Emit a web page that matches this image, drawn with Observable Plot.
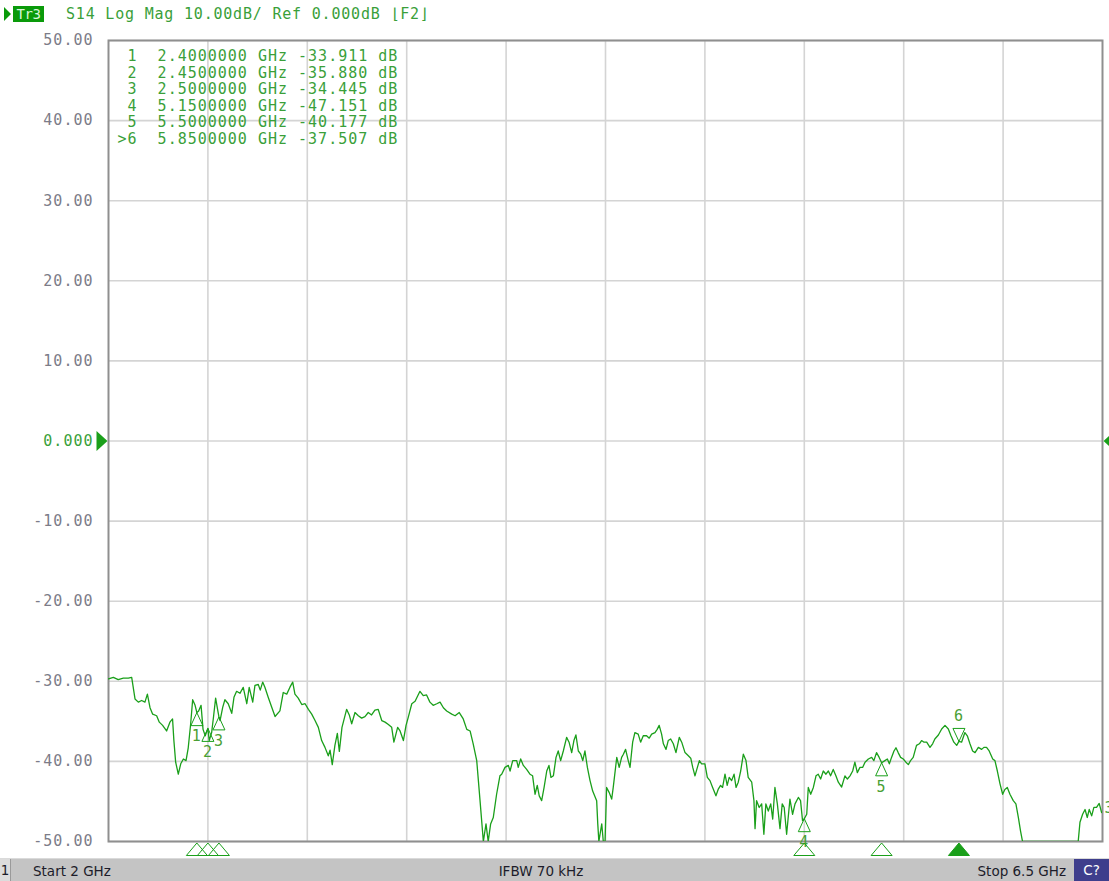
<!DOCTYPE html>
<html><head><meta charset="utf-8">
<script src="https://cdn.jsdelivr.net/npm/d3@7"></script>
<script src="https://cdn.jsdelivr.net/npm/@observablehq/plot@0.6"></script>
<style>
body{margin:0;background:#fff;width:1109px;height:881px;overflow:hidden;position:relative;font-family:"DejaVu Sans Mono",monospace;}
#header{position:relative;height:30px;}
#header .tri{position:absolute;left:4px;top:7px;width:0;height:0;border-top:7px solid transparent;border-bottom:7px solid transparent;border-left:7px solid #0a9a0a;}
#header .trbox{position:absolute;left:13px;top:6px;width:31px;height:16px;background:#0a9a0a;color:#d8f5d8;font-size:14px;line-height:16px;text-align:center;letter-spacing:-0.5px;}
#header .htext{position:absolute;left:66px;top:4px;font-size:15px;letter-spacing:0.8px;color:#3a9f3a;white-space:pre;line-height:20px;}
#chart{height:828px;}
#status{position:relative;height:23px;background:#c4c4c4;border-top:1px solid #dadada;box-sizing:border-box;font-family:"DejaVu Sans",sans-serif;font-size:13.5px;color:#1c1c2a;}
#status span{position:absolute;top:3px;line-height:18px;white-space:pre;}
#status .num{left:0;top:0;width:10px;height:22px;background:#dcdcdc;border-right:1px solid #9a9a9a;text-align:center;line-height:22px;}
#status .cbox{right:0;top:0;width:35px;height:22px;background:#3e3e8c;color:#fff;text-align:center;line-height:22px;}
</style></head><body>
<div id="header"><div class="tri"></div><div class="trbox" id="trname"></div><div class="htext" id="htext"></div></div>
<div id="chart"></div>
<div id="status">
 <span class="num" id="chnum"></span>
 <span id="start" style="left:33px"></span>
 <span id="ifbw" style="left:0;width:1082px;text-align:center"></span>
 <span id="stop" style="right:43px"></span>
 <span class="cbox" id="cbox"></span>
</div>
<script>
// ---- texts ----
const traceName = "Tr3";
const headerText = "S14 Log Mag 10.00dB/ Ref 0.000dB \u230AF2\u230B";
const statusTexts = {num: "1", start: "Start 2 GHz", ifbw: "IFBW 70 kHz", stop: "Stop 6.5 GHz", cbox: "C?"};

// ---- axes ----
const yTicks = [50, 40, 30, 20, 10, 0, -10, -20, -30, -40, -50];
const xGrid = [2.45, 2.9, 3.35, 3.8, 4.25, 4.7, 5.15, 5.6, 6.05];

// ---- markers ----
const markerNums = [1, 2, 3, 4, 5, 6];
const markerGHz = [2.40, 2.45, 2.50, 5.15, 5.50, 5.85];
const markerDB = [-33.911, -35.880, -34.445, -47.151, -40.177, -37.507];
const activeMarker = 6;

// ---- trace (GHz, dB) ----
const trace = [
[2.000,-29.7],[2.022,-29.5],[2.044,-29.8],[2.067,-29.6],[2.090,-29.6],[2.105,-29.5],[2.120,-32.2],[2.135,-32.6],[2.150,-32.4],[2.165,-32.6],
[2.176,-31.6],[2.188,-33.3],[2.200,-34.1],[2.218,-34.3],[2.230,-35.1],[2.245,-35.5],[2.263,-36.2],[2.278,-35.1],[2.290,-34.7],[2.296,-37.4],
[2.304,-40.1],[2.316,-41.6],[2.327,-40.3],[2.339,-39.7],[2.351,-39.9],[2.361,-38.3],[2.372,-35.3],[2.381,-32.3],[2.392,-33.0],[2.400,-33.911],
[2.408,-33.7],[2.419,-33.0],[2.428,-36.0],[2.438,-36.8],[2.450,-35.88],[2.456,-37.4],[2.467,-36.4],[2.476,-34.3],[2.485,-32.1],[2.495,-33.7],
[2.500,-34.445],[2.505,-34.9],[2.517,-33.25],[2.527,-32.3],[2.542,-32.8],[2.558,-34.0],[2.568,-32.0],[2.580,-31.25],[2.595,-31.5],[2.610,-30.75],
[2.626,-32.8],[2.637,-30.75],[2.653,-32.6],[2.663,-30.5],[2.678,-30.4],[2.687,-31.1],[2.698,-30.1],[2.708,-30.75],[2.723,-32.0],[2.739,-33.25],
[2.754,-34.4],[2.776,-33.7],[2.791,-31.4],[2.807,-31.6],[2.822,-30.7],[2.834,-30.1],[2.844,-31.6],[2.859,-32.1],[2.875,-32.9],[2.890,-32.8],
[2.905,-33.5],[2.920,-34.1],[2.935,-34.9],[2.950,-35.75],[2.965,-37.4],[2.980,-38.25],[2.995,-39.3],[3.003,-38.6],[3.013,-40.4],[3.025,-38.0],
[3.036,-36.5],[3.045,-38.75],[3.057,-35.75],[3.078,-33.5],[3.090,-34.2],[3.101,-35.3],[3.116,-33.9],[3.131,-34.3],[3.146,-34.6],[3.161,-34.4],
[3.176,-33.9],[3.191,-34.2],[3.206,-33.6],[3.221,-33.5],[3.237,-34.9],[3.252,-35.1],[3.267,-35.4],[3.282,-35.75],[3.292,-37.6],[3.309,-35.75],
[3.320,-36.2],[3.335,-37.4],[3.347,-35.5],[3.357,-34.5],[3.373,-32.8],[3.388,-32.5],[3.410,-31.25],[3.425,-31.8],[3.440,-31.7],[3.455,-32.6],
[3.470,-33.0],[3.486,-32.8],[3.501,-32.6],[3.516,-33.3],[3.531,-33.7],[3.554,-34.1],[3.569,-34.3],[3.588,-33.9],[3.606,-34.7],[3.622,-36.0],
[3.637,-36.2],[3.651,-37.8],[3.667,-39.9],[3.682,-44.9],[3.697,-50],[3.709,-47.8],[3.719,-50],[3.730,-47.8],[3.742,-47.0],[3.757,-44.1],
[3.772,-41.8],[3.780,-41.6],[3.795,-40.75],[3.810,-40.5],[3.818,-41.2],[3.830,-39.9],[3.848,-39.9],[3.855,-40.75],[3.866,-39.7],[3.878,-40.5],
[3.893,-41.0],[3.908,-41.6],[3.920,-41.8],[3.931,-44.1],[3.941,-43.0],[3.950,-44.3],[3.961,-44.9],[3.972,-43.25],[3.984,-41.2],[3.994,-40.5],
[4.003,-42.0],[4.014,-41.8],[4.026,-39.5],[4.036,-38.7],[4.047,-39.9],[4.059,-38.7],[4.074,-37.0],[4.085,-37.6],[4.097,-38.9],[4.107,-37.4],
[4.116,-36.7],[4.127,-38.7],[4.138,-39.1],[4.147,-39.9],[4.157,-38.7],[4.168,-40.75],[4.180,-42.4],[4.192,-43.7],[4.198,-44.1],[4.210,-44.9],
[4.215,-47.8],[4.220,-50],[4.233,-47.8],[4.240,-50],[4.248,-50],[4.255,-43.25],[4.267,-43.9],[4.278,-44.7],[4.285,-43.25],[4.301,-39.5],
[4.312,-40.75],[4.323,-39.5],[4.331,-39.1],[4.341,-38.5],[4.353,-39.9],[4.361,-40.75],[4.373,-37.6],[4.383,-36.4],[4.398,-36.6],[4.409,-37.6],
[4.421,-36.8],[4.436,-36.8],[4.448,-37.1],[4.459,-36.6],[4.474,-36.4],[4.484,-36.0],[4.493,-35.5],[4.504,-36.6],[4.512,-37.8],[4.524,-38.5],
[4.534,-37.4],[4.545,-37.2],[4.557,-37.8],[4.569,-38.9],[4.584,-37.0],[4.595,-37.6],[4.610,-38.9],[4.625,-39.3],[4.636,-39.6],[4.645,-40.75],
[4.655,-41.8],[4.666,-40.75],[4.675,-39.9],[4.685,-40.3],[4.700,-40.3],[4.711,-42.0],[4.723,-42.4],[4.735,-43.25],[4.750,-44.3],[4.760,-43.5],
[4.771,-43.0],[4.780,-43.25],[4.791,-41.6],[4.801,-43.0],[4.810,-42.0],[4.821,-42.4],[4.832,-41.6],[4.841,-43.25],[4.851,-42.6],[4.862,-41.2],
[4.874,-39.1],[4.886,-39.9],[4.896,-42.0],[4.912,-42.6],[4.922,-44.9],[4.927,-48.4],[4.934,-44.9],[4.946,-45.75],[4.957,-45.3],[4.967,-49.1],
[4.976,-45.3],[4.987,-46.2],[4.998,-45.3],[5.007,-47.2],[5.017,-43.25],[5.028,-45.3],[5.040,-48.4],[5.050,-45.3],[5.059,-45.75],[5.070,-49.1],
[5.085,-44.7],[5.097,-46.6],[5.108,-45.3],[5.123,-44.5],[5.133,-44.9],[5.142,-47.4],[5.150,-47.151],[5.161,-46.6],[5.168,-43.25],[5.179,-44.1],
[5.191,-43.25],[5.203,-41.8],[5.213,-41.6],[5.224,-42.2],[5.236,-41.2],[5.248,-41.6],[5.259,-41.2],[5.269,-41.8],[5.281,-41.0],[5.293,-41.8],
[5.304,-42.6],[5.319,-43.2],[5.334,-41.8],[5.345,-42.2],[5.357,-41.8],[5.369,-41.2],[5.379,-40.1],[5.390,-41.4],[5.402,-40.75],[5.414,-40.75],
[5.425,-40.1],[5.440,-39.7],[5.455,-39.5],[5.465,-39.9],[5.477,-38.9],[5.489,-39.5],[5.500,-40.177],[5.515,-39.9],[5.526,-39.7],[5.535,-40.3],
[5.545,-39.5],[5.556,-38.7],[5.565,-38.3],[5.575,-38.9],[5.586,-39.5],[5.598,-39.7],[5.610,-40.1],[5.621,-40.4],[5.631,-39.9],[5.643,-39.5],
[5.658,-38.0],[5.671,-37.8],[5.681,-37.4],[5.692,-37.6],[5.704,-37.6],[5.719,-38.25],[5.731,-37.8],[5.741,-37.2],[5.757,-36.7],[5.772,-35.95],
[5.787,-35.5],[5.802,-35.95],[5.814,-36.8],[5.827,-37.6],[5.840,-38.0],[5.850,-37.507],[5.862,-37.6],[5.877,-36.4],[5.888,-36.8],[5.900,-37.8],
[5.912,-38.7],[5.923,-38.9],[5.938,-38.25],[5.953,-38.5],[5.963,-38.25],[5.975,-38.25],[5.987,-38.7],[6.003,-39.7],[6.013,-39.9],[6.024,-41.2],
[6.036,-42.8],[6.048,-44.1],[6.058,-43.5],[6.069,-43.25],[6.081,-44.1],[6.096,-44.9],[6.108,-45.3],[6.119,-47.0],[6.129,-48.7],[6.138,-50],
[6.390,-50],[6.398,-47.6],[6.410,-46.6],[6.421,-46.0],[6.431,-47.0],[6.440,-46.0],[6.451,-46.8],[6.461,-45.75],[6.473,-45.75],[6.485,-45.25],
[6.496,-46.4]
];
const traceTagLabel = "3";
const traceTagDB = -45.8;
const refLevel = 0;

// ---- styles ----
const green = "#1a9f1a";
const textGreen = "#3a9f3a";
const labelGreen = "#4a9f34";
const grey = "#7c7c88";

document.getElementById("trname").textContent = traceName;
document.getElementById("htext").textContent = headerText;
for (const k of Object.keys(statusTexts)) {
  const id = k === "num" ? "chnum" : k;
  document.getElementById(id).textContent = statusTexts[k];
}

const traceData = trace.map(([f, db]) => ({f, db}));
const markers = markerNums.map((n, i) => ({n, f: markerGHz[i], db: markerDB[i], active: n === activeMarker}));
const nb = s => s.replace(/ /g, "\u00A0");
const tableText = markers.map(m =>
  nb(((m.active ? ">" : " ") + m.n).padStart(2) + "  " + m.f.toFixed(7) + " GHz " + m.db.toFixed(3) + " dB")
).join("\n");

const sym = pts => ({draw(ctx) { ctx.moveTo(pts[0][0], pts[0][1]); for (let i = 1; i < pts.length; i++) ctx.lineTo(pts[i][0], pts[i][1]); ctx.closePath(); }});
const triUp = sym([[0, 0], [6, 13], [-6, 13]]);
const triDown = sym([[0, 0], [6, -13], [-6, -13]]);
const triBottom = sym([[0, 0], [10.5, 12.5], [-10.5, 12.5]]);
const triRight = sym([[0, 0], [-11, -10], [-11, 10]]);
const triLeft = sym([[0, 0], [11, -10], [11, 10]]);

const upMarkers = markers.filter(m => !m.active);
const downMarkers = markers.filter(m => m.active);

const chart = Plot.plot({
  width: 1109, height: 828,
  marginTop: 10, marginBottom: 17, marginLeft: 108, marginRight: 7,
  x: {domain: [2, 6.5], axis: null},
  y: {domain: [-50, 50], axis: null},
  style: {fontFamily: "DejaVu Sans Mono", fontSize: "15px", letterSpacing: "1px", background: "#fff", overflow: "visible"},
  marks: [
    Plot.gridX(xGrid, {stroke: "#d4d4d4", strokeOpacity: 1, strokeWidth: 1.6}),
    Plot.gridY(yTicks, {stroke: "#d4d4d4", strokeOpacity: 1, strokeWidth: 1.6}),
    Plot.frame({stroke: "#8f8f8f", strokeWidth: 2}),
    Plot.text(yTicks, {y: d => d, text: d => d === refLevel ? "0.000" : d.toFixed(2), frameAnchor: "left", textAnchor: "end", dx: -15,
      fill: d => d === refLevel ? textGreen : grey}),
    Plot.text([tableText], {text: d => d, frameAnchor: "top-left", textAnchor: "start", lineAnchor: "top", lineHeight: 1.1, dx: 9, dy: 9, fill: textGreen}),
    Plot.line(traceData, {x: "f", y: "db", stroke: green, strokeWidth: 1.3, clip: true}),
    Plot.dot(upMarkers, {x: "f", y: "db", symbol: triUp, r: 5, stroke: green, strokeWidth: 1, fill: "none"}),
    Plot.dot(downMarkers, {x: "f", y: "db", symbol: triDown, r: 5, stroke: green, strokeWidth: 1, fill: "none"}),
    Plot.text(upMarkers, {x: "f", y: "db", text: "n", dy: 24, fill: labelGreen}),
    Plot.text(downMarkers, {x: "f", y: "db", text: "n", dy: -25, fill: labelGreen}),
    Plot.dot(markers, {x: "f", y: () => -50, dy: 1.5, symbol: triBottom, r: 5, stroke: green, strokeWidth: 1, fill: d => d.active ? green : "none"}),
    Plot.dot([refLevel], {y: d => d, frameAnchor: "left", dx: -1, symbol: triRight, r: 5, fill: green, stroke: "none"}),
    Plot.dot([refLevel], {y: d => d, frameAnchor: "right", dx: 1, symbol: triLeft, r: 5, fill: green, stroke: "none"}),
    Plot.text([traceTagLabel], {y: () => traceTagDB, text: d => d, frameAnchor: "right", textAnchor: "start", dx: 2, fill: labelGreen})
  ]
});
document.getElementById("chart").appendChild(chart);
</script>
</body></html>
